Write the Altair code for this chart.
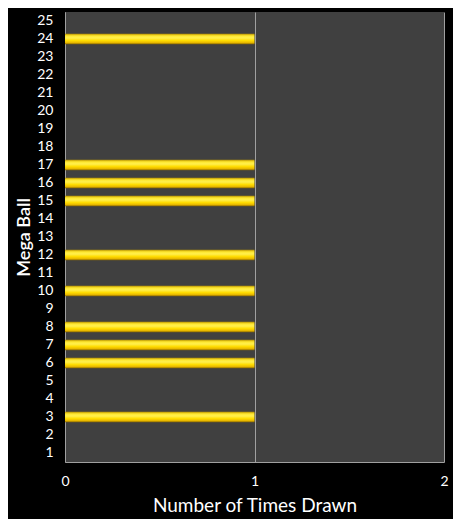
import altair as alt
import pandas as pd

balls = list(range(1, 26))
drawn = [0, 0, 1, 0, 0, 1, 1, 1, 0, 1, 0, 1, 0, 0, 1, 1, 1, 0, 0, 0, 0, 0, 0, 1, 0]
x_ticks = [0, 1, 2]

df = pd.DataFrame({"ball": [str(b) for b in balls], "count": drawn})
order = [str(b) for b in reversed(balls)]

grad = alt.Gradient(
    gradient="linear", x1=0, x2=0, y1=0, y2=1,
    stops=[
        alt.GradientStop(offset=0, color="#b89200"),
        alt.GradientStop(offset=0.2, color="#ffe830"),
        alt.GradientStop(offset=0.4, color="#fff050"),
        alt.GradientStop(offset=0.65, color="#ffdc00"),
        alt.GradientStop(offset=0.85, color="#e8b800"),
        alt.GradientStop(offset=1, color="#8a6800"),
    ],
)

chart = alt.Chart(df).mark_bar(color=grad).encode(
    y=alt.Y("ball:N", sort=order,
            scale=alt.Scale(paddingInner=0.42, paddingOuter=0.21),
            axis=alt.Axis(title="Mega Ball", ticks=False, domain=True,
                          domainColor="#a0a0a0", labelColor="white",
                          labelFont="Lato", labelFontSize=14, labelPadding=12,
                          titleColor="white", titleFont="Lato", titleFontSize=18,
                          titleFontWeight=600, titlePadding=3, grid=False)),
    x=alt.X("count:Q", scale=alt.Scale(domain=[0, 2], nice=False),
            axis=alt.Axis(title="Number of Times Drawn", values=x_ticks,
                          labelExpr="datum.value", labelFlush=False,
                          labelOverlap=False,
                          ticks=False, domainColor="#a0a0a0", labelColor="white",
                          labelFont="Lato", labelFontSize=14, labelPadding=12,
                          grid=True, gridColor="#a0a0a0", gridWidth=1,
                          titleColor="white", titleFont="Lato", titleFontSize=19,
                          titleFontWeight="normal", titlePadding=8)),
).properties(
    width=379, height=450,
    background="black",
    autosize=alt.AutoSizeParams(type="none"),
    padding={"left": 57, "top": 4, "right": 9, "bottom": 57},
).configure_view(fill="#404040", stroke=None)

chart.save("out.html", embed_options={"renderer": "svg", "actions": False})
